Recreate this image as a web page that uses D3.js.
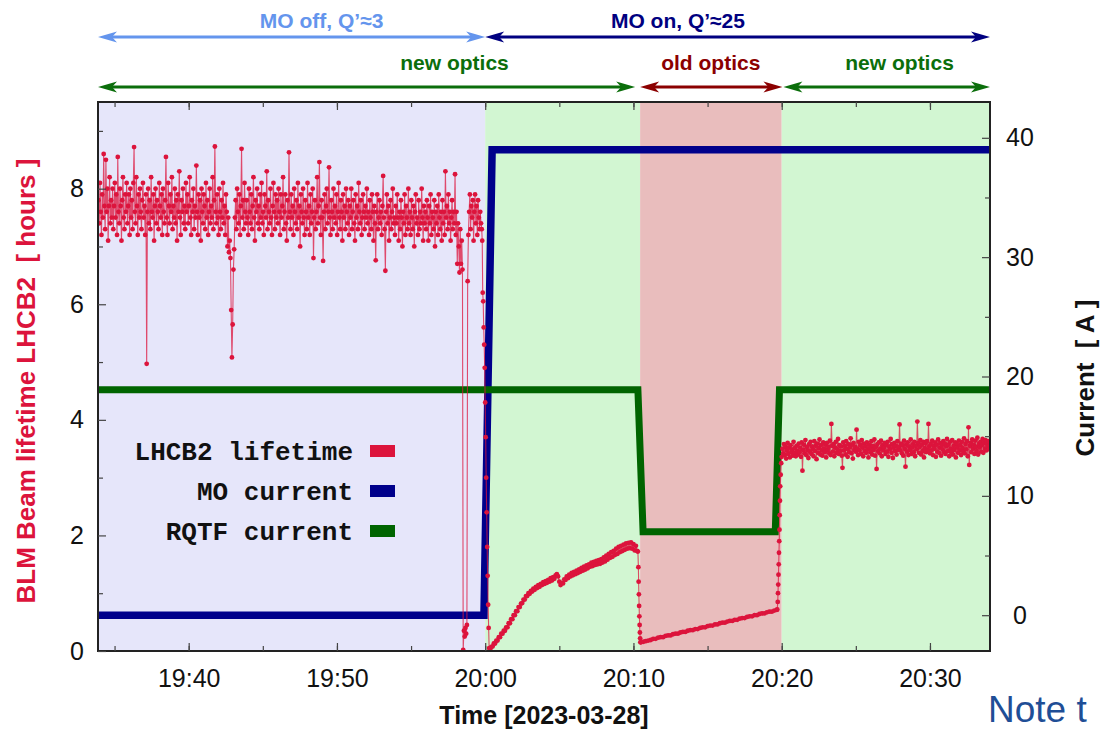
<!DOCTYPE html>
<html><head><meta charset="utf-8">
<script src="https://cdnjs.cloudflare.com/ajax/libs/d3/7.8.5/d3.min.js"></script>
<style>
body{margin:0;background:#fff;}
svg text{white-space:pre;}
</style></head><body>
<svg id="chart" width="1102" height="733"></svg>
<script>
// ---------------- DATA (times in seconds relative to 2023-03-28 20:00:00) ----------------
const xDomainSec = [-1567, 2043];
const yLeftDomain = [0, 9.5];
const yRightDomain = [-3, 43];
const leftMajorTicks = [0, 2, 4, 6, 8];
const leftMinorTicks = [1, 3, 5, 7, 9];
const rightMajorTicks = [0, 10, 20, 30, 40];
const rightMinorTicks = [5, 15, 25, 35];

// optics / MO phases (seconds)
const phaseStarts = [-1567, 0, 627, 1200];
const phaseEnds   = [0, 627, 1200, 2043];
const phaseKinds  = ["moOff", "newOptics", "oldOptics", "newOptics"];

// MO current [A]
const moTimes  = [-1567, -5, 28, 2043];
const moValues = [0, 0, 39, 39];

// RQTF current [A]
const rqtfTimes  = [-1567, 618, 639, 1174, 1191, 2043];
const rqtfValues = [18.9, 18.9, 7.0, 7.0, 18.9, 18.9];

// LHCB2 lifetime [hours]
const preStart = -1565, preStep = 3;
const preValues = [
 7.8,7.4,8.1,7.6,7.2,7.9,7.5,8.6,7.7,7.3,8.5,7.6,8.0,7.1,7.7,8.2,7.4,7.8,7.5,8.0,
 7.3,7.7,8.1,7.5,7.9,7.2,8.55,7.6,7.4,8.0,7.7,7.1,7.8,8.2,7.5,7.3,7.9,7.6,8.1,7.4,
 7.7,7.9,7.2,8.0,7.5,7.8,7.3,8.1,8.72,7.6,7.4,8.2,7.7,7.2,7.9,7.5,8.0,7.6,7.3,7.8,
 8.1,7.5,7.7,7.2,7.9,4.97,7.6,8.0,7.4,7.8,7.3,8.2,7.6,7.5,7.9,7.1,7.7,8.0,7.4,7.8,
 7.6,7.3,8.1,7.7,7.5,7.9,7.2,8.0,7.6,7.4,7.8,8.55,7.5,7.2,8.1,7.7,7.4,7.9,7.6,8.2,
 7.3,7.7,7.5,8.0,7.4,7.8,7.1,7.9,7.6,8.3,7.5,7.2,7.8,7.6,8.0,7.4,7.7,7.3,8.1,7.6,
 7.9,7.4,7.7,8.2,7.5,7.2,7.8,7.6,8.0,7.3,7.7,7.5,8.4,7.6,7.2,7.9,7.5,7.8,7.1,8.0,
 7.6,7.4,7.9,7.7,7.3,8.1,7.5,7.8,7.2,7.6,8.0,7.4,7.7,7.5,8.2,7.3,7.8,8.73,7.6,7.4,
 7.9,7.5,7.2,8.0,7.6,7.3,7.8,7.5,8.1,7.4,7.7,7.2,7.9,7.6,7.0,7.5,6.9,7.1,6.8,5.9,
 5.08,5.65,6.6,6.95,7.5,7.8,7.3,8.0,7.6,7.4,7.9,7.2,7.7,8.69,7.5,7.8,7.3,8.1,7.6,7.4,
 7.8,7.5,7.2,8.0,7.6,7.4,7.9,7.3,7.7,8.2,7.5,7.1,7.8,7.6,8.0,7.4,7.7,7.3,7.9,7.5,
 8.1,7.4,7.6,7.2,7.9,7.7,7.5,8.3,7.3,7.8,7.6,7.4,8.0,7.5,7.2,7.7,8.1,7.6,7.3,7.9,
 7.5,7.8,7.4,8.0,7.6,7.2,7.9,7.5,7.7,8.2,7.3,7.6,7.9,7.4,7.1,7.8,7.5,8.63,7.6,7.3,
 7.9,7.5,7.7,7.2,8.0,7.6,7.4,7.8,7.3,8.1,7.5,7.7,7.0,7.9,7.6,7.4,8.0,7.5,7.2,7.8,
 7.6,7.3,8.1,7.5,7.7,7.2,7.9,7.4,7.6,8.0,6.8,7.5,7.8,7.3,7.6,8.2,7.4,7.7,8.46,7.5,
 7.2,7.8,7.5,6.75,7.6,7.9,7.3,7.7,8.0,7.4,7.6,8.37,7.5,7.2,7.8,7.6,7.3,8.0,7.5,7.7,
 7.4,7.9,7.2,7.6,8.1,7.5,7.3,7.8,7.6,7.1,7.9,7.5,7.7,7.3,8.0,7.6,7.4,7.8,7.2,7.7,
 7.5,8.0,7.3,7.6,7.8,7.4,7.1,7.9,7.5,7.7,7.3,8.1,7.6,7.4,7.8,7.2,7.5,7.9,7.6,7.3,
 7.7,7.5,8.0,7.4,7.6,7.2,7.8,7.5,7.3,7.9,7.6,7.1,7.7,7.4,6.76,7.6,7.9,7.3,7.5,7.8,
 7.4,7.6,7.2,7.7,8.22,7.5,7.3,6.58,7.6,7.9,7.4,7.7,7.1,7.5,7.8,7.3,7.6,8.0,7.4,7.5,
 7.2,7.7,7.4,7.9,7.5,7.1,7.6,7.3,7.8,7.5,7.0,7.6,7.4,7.9,7.2,7.7,7.5,7.3,8.0,7.4,
 7.6,7.2,7.8,7.5,7.3,7.7,7.0,7.6,7.9,7.4,7.5,7.2,7.8,7.3,7.6,7.4,8.0,7.5,7.1,7.7,
 7.4,7.6,7.3,7.8,7.5,7.1,7.7,7.4,7.9,7.2,7.6,7.5,7.3,7.8,7.0,7.6,7.4,7.7,7.2,7.9,
 7.5,7.3,7.6,7.1,7.8,7.4,7.6,7.2,8.3,7.5,7.7,7.3,7.9,7.4,7.6,7.1,7.5,7.8,7.3,7.6,
 7.4,8.25,7.2,7.6,6.7,7.4,7.0,6.55,7.3,6.7,7.1,6.6,0.02,0.35,0.25,0.4,0.3,0.45,6.4,7.2,
 7.6,7.9,7.3,7.7,7.5,7.8,7.1,7.6,7.9,7.4,7.7,7.2,7.8,7.5,7.3,7.6,7.4,7.3
];
const fallTimes  = [-12, -10, -8, -6, -4, -2, 0, 2, 4, 6, 8, 10, 12, 14, 16];
const fallValues = [7.1, 6.2, 6.05, 5.6, 5.3, 4.9, 4.3, 3.7, 3.0, 2.4, 1.8, 1.3, 0.8, 0.4, 0.05];
const recStart = 20, recStep = 5;
const recValues = [
 0.03,0.07,0.08,0.13,0.13,0.18,0.18,0.24,0.24,0.30,0.30,0.35,0.35,0.41,0.41,0.48,0.48,0.55,0.55,0.62,
 0.62,0.69,0.69,0.76,0.76,0.82,0.83,0.89,0.89,0.95,0.95,1.00,0.99,1.04,1.03,1.08,1.06,1.11,1.09,1.14,
 1.11,1.16,1.14,1.19,1.16,1.21,1.18,1.23,1.20,1.26,1.22,1.28,1.25,1.31,1.33,1.29,1.20,1.14,1.18,1.17,
 1.24,1.23,1.29,1.26,1.32,1.29,1.35,1.31,1.37,1.33,1.39,1.35,1.41,1.37,1.44,1.39,1.46,1.41,1.48,1.43,
 1.50,1.46,1.53,1.47,1.54,1.49,1.56,1.50,1.57,1.51,1.59,1.53,1.62,1.55,1.65,1.58,1.68,1.61,1.71,1.63,
 1.73,1.66,1.77,1.68,1.80,1.71,1.82,1.73,1.84,1.75,1.86,1.77,1.87,1.78,1.88,1.77,1.85,1.74,1.82,1.73
];
const dropTimes  = [618, 620, 621, 622, 623, 624, 625, 626, 627, 628];
const dropValues = [1.72, 1.45, 1.2, 0.98, 0.78, 0.6, 0.45, 0.32, 0.22, 0.15];
const oldStart = 630, oldStep = 10;
const oldValues = [
 0.15,0.16,0.17,0.18,0.19,0.21,0.21,0.23,0.24,0.24,
 0.26,0.27,0.27,0.29,0.30,0.30,0.32,0.33,0.33,0.35,
 0.36,0.36,0.38,0.38,0.40,0.41,0.41,0.43,0.44,0.44,
 0.46,0.46,0.48,0.49,0.49,0.51,0.52,0.52,0.54,0.54,
 0.56,0.57,0.57,0.59,0.60,0.60,0.62,0.62,0.64,0.65,
 0.65,0.67,0.68,0.68,0.70,0.71
];
const riseTimes  = [1182, 1184, 1185, 1186, 1187, 1188, 1189, 1190, 1191, 1192, 1193, 1194, 1196, 1198];
const riseValues = [0.72, 0.85, 1.0, 1.15, 1.32, 1.5, 1.7, 1.9, 2.1, 2.35, 2.6, 2.85, 3.05, 3.25];
const postStart = 1200, postStep = 3;
const postValues = [
 3.36,3.50,3.42,3.58,3.39,3.53,3.33,3.47,3.60,3.41,3.52,3.35,3.56,3.44,3.49,3.38,3.62,3.43,3.51,3.37,
 3.55,3.46,3.40,3.59,3.44,3.52,3.36,3.61,3.12,3.48,3.57,3.42,3.65,3.39,3.53,3.47,3.34,3.58,3.45,3.62,
 3.41,3.54,3.49,3.37,3.63,3.46,3.55,3.32,3.59,3.43,3.51,3.66,3.40,3.56,3.47,3.38,3.61,3.50,3.44,3.57,
 3.35,3.60,3.48,3.53,3.42,3.64,3.39,3.93,3.55,3.45,3.58,3.37,3.52,3.62,3.43,3.49,3.67,3.41,3.56,3.46,
 3.54,3.38,3.17,3.61,3.47,3.55,3.40,3.63,3.50,3.36,3.58,3.44,3.52,3.68,3.42,3.57,3.33,3.60,3.48,3.53,
 3.45,3.83,3.50,3.39,3.62,3.47,3.56,3.41,3.65,3.52,3.37,3.59,3.46,3.54,3.43,3.61,3.49,3.35,3.57,3.51,
 3.44,3.63,3.40,3.55,3.48,3.66,3.38,3.53,3.15,3.58,3.46,3.61,3.42,3.50,3.64,3.37,3.56,3.47,3.52,3.60,
 3.41,3.57,3.45,3.62,3.36,3.54,3.49,3.67,3.43,3.58,3.34,3.52,3.60,3.46,3.55,3.40,3.63,3.48,3.53,3.92,
 3.47,3.59,3.42,3.56,3.38,3.64,3.50,3.19,3.57,3.45,3.61,3.39,3.54,3.48,3.66,3.41,3.52,3.58,3.44,3.62,
 3.37,3.55,3.49,3.97,3.60,3.43,3.53,3.65,3.40,3.57,3.46,3.62,3.35,3.51,3.59,3.44,3.63,3.48,3.93,3.54,
 3.42,3.58,3.47,3.64,3.39,3.55,3.50,3.61,3.36,3.57,3.45,3.66,3.43,3.52,3.60,3.38,3.56,3.49,3.63,3.44,
 3.59,3.41,3.54,3.67,3.46,3.57,3.37,3.62,3.50,3.44,3.65,3.40,3.55,3.48,3.61,3.35,3.58,3.52,3.43,3.64,
 3.47,3.56,3.39,3.62,3.51,3.45,3.68,3.42,3.58,3.49,3.63,3.37,3.87,3.22,3.55,3.60,3.44,3.66,3.50,3.57,
 3.41,3.64,3.53,3.46,3.69,3.40,3.58,3.52,3.62,3.45,3.56,3.67,3.43,3.60,3.50,3.65,3.47,3.58,3.54,3.63,
 3.49,3.61
];

const legendLabels = ["LHCB2 lifetime", "MO current", "RQTF current"];
const annotTop = [
  {label: "MO off, Q\u2019\u22483", from: -1567, to: 0, textAt: -662, kind: "moOffC"},
  {label: "MO on, Q\u2019\u224825", from: 0, to: 2043, textAt: 780, kind: "moOnC"}
];
const annotBottom = [
  {label: "new optics", from: -1567, to: 607, textAt: -124, kind: "newC"},
  {label: "old optics", from: 627, to: 1203, textAt: 913, kind: "oldC"},
  {label: "new optics", from: 1207, to: 2043, textAt: 1677, kind: "newC"}
];

// ---------------- STYLE ----------------
const C = {
  moOff: "#e6e6fa", newOptics: "#d2f6d2", oldOptics: "#e9bdbd",
  red: "#dc143c", blue: "#00008b", green: "#006400",
  moOffC: "#6495ed", moOnC: "#000080", newC: "#0b6e0b", oldC: "#8b0000"
};
const M = {left: 98, right: 990, top: 102, bottom: 651};
const sansFont = "'Liberation Sans', Arial, Helvetica, sans-serif";

const base = new Date(2023, 2, 28, 20, 0, 0).getTime();
const toDate = s => new Date(base + s * 1000);

const svg = d3.select("#chart");
const x = d3.scaleTime().domain(xDomainSec.map(toDate)).range([M.left, M.right]);
const yL = d3.scaleLinear().domain(yLeftDomain).range([M.bottom, M.top]);
const yR = d3.scaleLinear().domain(yRightDomain).range([M.bottom, M.top]);

svg.append("defs").append("clipPath").attr("id", "plotClip")
  .append("rect").attr("x", M.left).attr("y", M.top)
  .attr("width", M.right - M.left).attr("height", M.bottom - M.top);

// background phases
svg.append("g").selectAll("rect").data(phaseStarts.map((s, i) => ({s, e: phaseEnds[i], k: phaseKinds[i]})))
  .join("rect")
  .attr("x", d => x(toDate(d.s))).attr("y", M.top)
  .attr("width", d => x(toDate(d.e)) - x(toDate(d.s)))
  .attr("height", M.bottom - M.top)
  .attr("fill", d => C[d.k]);

const plot = svg.append("g").attr("clip-path", "url(#plotClip)");

// MO current
const moData = moTimes.map((t, i) => ({t, v: moValues[i]}));
plot.append("path").datum(moData)
  .attr("d", d3.line().x(d => x(toDate(d.t))).y(d => yR(d.v)))
  .attr("fill", "none").attr("stroke", C.blue).attr("stroke-width", 7.5).attr("stroke-linejoin", "miter");

// RQTF current
const rqData = rqtfTimes.map((t, i) => ({t, v: rqtfValues[i]}));
plot.append("path").datum(rqData)
  .attr("d", d3.line().x(d => x(toDate(d.t))).y(d => yR(d.v)))
  .attr("fill", "none").attr("stroke", C.green).attr("stroke-width", 7).attr("stroke-linejoin", "miter");

// lifetime
const seg = (start, step, vals) => vals.map((v, i) => ({t: start + i * step, v}));
const pairs = (ts, vals) => ts.map((t, i) => ({t, v: vals[i]}));
const life = [].concat(
  seg(preStart, preStep, preValues), pairs(fallTimes, fallValues),
  seg(recStart, recStep, recValues), pairs(dropTimes, dropValues), seg(oldStart, oldStep, oldValues),
  pairs(riseTimes, riseValues), seg(postStart, postStep, postValues)
).sort((a, b) => a.t - b.t);

plot.append("path").datum(life)
  .attr("d", d3.line().x(d => x(toDate(d.t))).y(d => yL(d.v)))
  .attr("fill", "none").attr("stroke", C.red).attr("stroke-width", 1.1).attr("stroke-opacity", 0.75);
plot.append("g").selectAll("circle").data(life).join("circle")
  .attr("cx", d => x(toDate(d.t))).attr("cy", d => yL(d.v)).attr("r", 2.4).attr("fill", C.red);

// frame
svg.append("rect").attr("x", M.left).attr("y", M.top)
  .attr("width", M.right - M.left).attr("height", M.bottom - M.top)
  .attr("fill", "none").attr("stroke", "#222").attr("stroke-width", 2);

// axes
function styleAxis(g) {
  g.select(".domain").remove();
  g.selectAll(".tick line").attr("stroke", "#444").attr("stroke-width", 1.2);
  g.selectAll("text").attr("font-family", sansFont).attr("font-size", 25).attr("fill", "#111");
}
const fmt = d3.timeFormat("%H:%M");
svg.append("g").attr("transform", `translate(0,${M.bottom})`)
  .call(d3.axisBottom(x).ticks(d3.timeMinute.every(10)).tickFormat(fmt).tickSize(-8).tickPadding(18))
  .call(styleAxis);
svg.append("g").attr("transform", `translate(0,${M.bottom})`)
  .call(d3.axisBottom(x).ticks(d3.timeMinute.every(5)).tickFormat("").tickSize(-5))
  .call(styleAxis);
svg.append("g").attr("transform", `translate(0,${M.top})`)
  .call(d3.axisTop(x).ticks(d3.timeMinute.every(10)).tickFormat("").tickSize(-8))
  .call(styleAxis);
svg.append("g").attr("transform", `translate(0,${M.top})`)
  .call(d3.axisTop(x).ticks(d3.timeMinute.every(5)).tickFormat("").tickSize(-5))
  .call(styleAxis);

svg.append("g").attr("transform", `translate(${M.left},0)`)
  .call(d3.axisLeft(yL).tickValues(leftMajorTicks).tickFormat(d3.format("d")).tickSize(-8).tickPadding(14))
  .call(styleAxis);
svg.append("g").attr("transform", `translate(${M.left},0)`)
  .call(d3.axisLeft(yL).tickValues(leftMinorTicks).tickFormat("").tickSize(-5))
  .call(styleAxis);
const rAx = svg.append("g").attr("transform", `translate(${M.right},0)`)
  .call(d3.axisRight(yR).tickValues(rightMajorTicks).tickFormat(d3.format("d")).tickSize(-8))
  .call(styleAxis);
rAx.selectAll("text").attr("text-anchor", "middle").attr("x", 30);
svg.append("g").attr("transform", `translate(${M.right},0)`)
  .call(d3.axisRight(yR).tickValues(rightMinorTicks).tickFormat("").tickSize(-5))
  .call(styleAxis);

// axis titles
svg.append("text").attr("x", (M.left + M.right) / 2).attr("y", 724)
  .attr("text-anchor", "middle").attr("font-family", sansFont).attr("font-weight", "bold")
  .attr("font-size", 25).attr("fill", "#111").text("Time [2023-03-28]");
svg.append("text").attr("transform", "translate(35,381) rotate(-90)")
  .attr("text-anchor", "middle").attr("font-family", sansFont).attr("font-weight", "bold")
  .attr("font-size", 26).attr("fill", C.red).text("BLM Beam lifetime LHCB2  [ hours ]");
svg.append("text").attr("transform", "translate(1094,378) rotate(-90)")
  .attr("text-anchor", "middle").attr("font-family", sansFont).attr("font-weight", "bold")
  .attr("font-size", 26).attr("fill", "#111").text("Current  [ A ]");

// legend
const legColors = [C.red, C.blue, C.green];
const leg = svg.append("g");
legendLabels.forEach((lab, i) => {
  const yb = 460 + i * 40;
  leg.append("text").attr("x", 353).attr("y", yb).attr("text-anchor", "end")
    .attr("font-family", "'Courier New', 'Liberation Mono', monospace").attr("font-weight", "bold")
    .attr("font-size", 26).attr("fill", "#111").text(lab);
  leg.append("rect").attr("x", 370).attr("y", yb - 15).attr("width", 25).attr("height", 12)
    .attr("fill", legColors[i]);
});

// annotations with double arrows
function arrowHead(g, tipX, y, dir, color) {
  const L = 19, W = 5.5, N = 14;
  const pts = [[tipX, y], [tipX + dir * L, y - W], [tipX + dir * N, y], [tipX + dir * L, y + W]];
  g.append("path").attr("d", "M" + pts.map(p => p.join(",")).join("L") + "Z").attr("fill", color);
}
function drawArrow(a, y, textY) {
  const g = svg.append("g");
  const x0 = x(toDate(a.from)), x1 = x(toDate(a.to));
  const col = C[a.kind];
  g.append("line").attr("x1", x0 + 10).attr("x2", x1 - 10).attr("y1", y).attr("y2", y)
    .attr("stroke", col).attr("stroke-width", 3);
  arrowHead(g, x0, y, 1, col);
  arrowHead(g, x1, y, -1, col);
  g.append("text").attr("x", x(toDate(a.textAt))).attr("y", textY).attr("text-anchor", "middle")
    .attr("font-family", sansFont).attr("font-weight", "bold").attr("font-size", 21)
    .attr("fill", col).text(a.label);
}
annotTop.forEach(a => drawArrow(a, 37, 28));
annotBottom.forEach(a => drawArrow(a, 87, 70));

// slide text fragment
svg.append("text").attr("x", 988).attr("y", 722).attr("font-family", sansFont)
  .attr("font-size", 37).attr("fill", "#1f4e96").text("Note t");
</script>
</body></html>
